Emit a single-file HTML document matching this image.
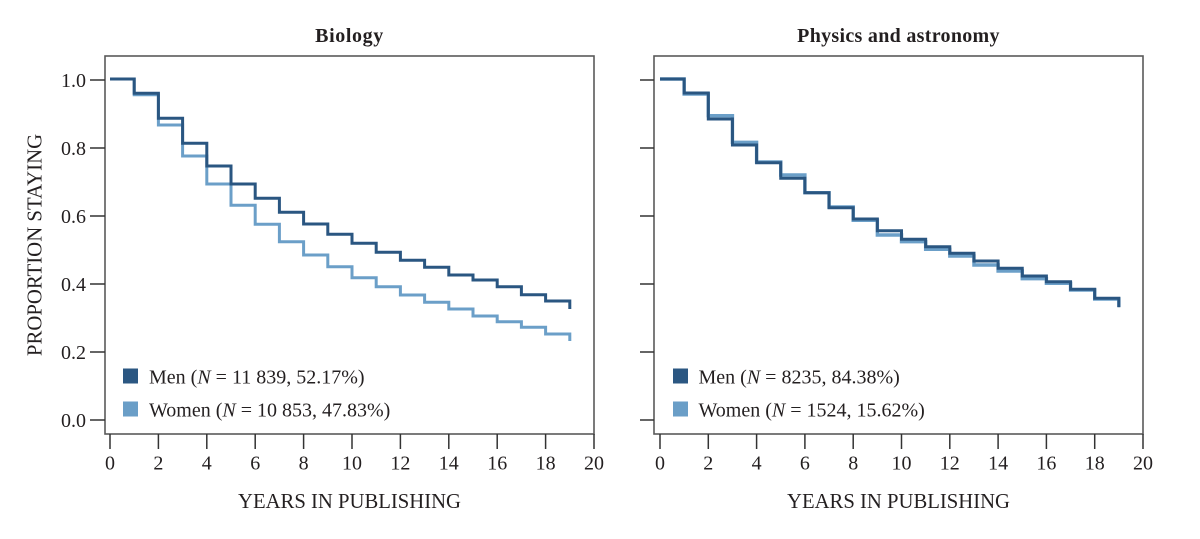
<!DOCTYPE html>
<html>
<head>
<meta charset="utf-8">
<style>
  html,body{margin:0;padding:0;background:#fff;}
  svg{display:block;}
  text{font-family:"Liberation Serif","DejaVu Serif",serif;fill:#231f20;}
</style>
</head>
<body>
<svg width="1200" height="539" viewBox="0 0 1200 539" xmlns="http://www.w3.org/2000/svg">
  <!-- Titles -->
  <text x="349.5" y="42" font-size="20" font-weight="bold" text-anchor="middle" letter-spacing="0.6">Biology</text>
  <text x="898.5" y="42" font-size="20" font-weight="bold" text-anchor="middle" letter-spacing="0.3">Physics and astronomy</text>

  <!-- Y axis label -->
  <text transform="translate(41.5,245) rotate(-90)" font-size="20.8" text-anchor="middle">PROPORTION STAYING</text>

  <!-- X axis labels -->
  <text x="349.5" y="508" font-size="20.7" text-anchor="middle">YEARS IN PUBLISHING</text>
  <text x="898.5" y="508" font-size="20.7" text-anchor="middle">YEARS IN PUBLISHING</text>

  <!-- ===== Left panel ===== -->
  <rect x="105" y="56" width="489" height="378" fill="none" stroke="#5a5a5a" stroke-width="1.6"/>
  <!-- y ticks -->
  <g stroke="#333" stroke-width="1.5">
    <line x1="90" y1="80" x2="105" y2="80"/>
    <line x1="90" y1="148" x2="105" y2="148"/>
    <line x1="90" y1="216" x2="105" y2="216"/>
    <line x1="90" y1="284" x2="105" y2="284"/>
    <line x1="90" y1="352" x2="105" y2="352"/>
    <line x1="90" y1="420" x2="105" y2="420"/>
  </g>
  <g font-size="20" text-anchor="end">
    <text x="86" y="87">1.0</text>
    <text x="86" y="155">0.8</text>
    <text x="86" y="223">0.6</text>
    <text x="86" y="291">0.4</text>
    <text x="86" y="359">0.2</text>
    <text x="86" y="427">0.0</text>
  </g>
  <!-- x ticks -->
  <g stroke="#333" stroke-width="1.5">
    <line x1="110" y1="434" x2="110" y2="449"/>
    <line x1="158.4" y1="434" x2="158.4" y2="449"/>
    <line x1="206.8" y1="434" x2="206.8" y2="449"/>
    <line x1="255.2" y1="434" x2="255.2" y2="449"/>
    <line x1="303.6" y1="434" x2="303.6" y2="449"/>
    <line x1="352" y1="434" x2="352" y2="449"/>
    <line x1="400.4" y1="434" x2="400.4" y2="449"/>
    <line x1="448.8" y1="434" x2="448.8" y2="449"/>
    <line x1="497.2" y1="434" x2="497.2" y2="449"/>
    <line x1="545.6" y1="434" x2="545.6" y2="449"/>
    <line x1="594" y1="434" x2="594" y2="449"/>
  </g>
  <g font-size="20" text-anchor="middle">
    <text x="110" y="469.5">0</text>
    <text x="158.4" y="469.5">2</text>
    <text x="206.8" y="469.5">4</text>
    <text x="255.2" y="469.5">6</text>
    <text x="303.6" y="469.5">8</text>
    <text x="352" y="469.5">10</text>
    <text x="400.4" y="469.5">12</text>
    <text x="448.8" y="469.5">14</text>
    <text x="497.2" y="469.5">16</text>
    <text x="545.6" y="469.5">18</text>
    <text x="594" y="469.5">20</text>
  </g>
  <!-- Women (left) -->
  <path fill="none" stroke="#6b9fc8" stroke-width="3" stroke-linejoin="miter"
    d="M110,79 H134.2 V94.7 H158.4 V125 H182.6 V156 H206.8 V184 H231 V205.3 H255.2 V224.3 H279.4 V241.7 H303.6 V255 H327.8 V266.7 H352 V277.7 H376.2 V286.7 H400.4 V295 H424.6 V302.3 H448.8 V309 H473 V316 H497.2 V321.7 H521.4 V327.3 H545.6 V334 H569.8 V341"/>
  <!-- Men (left) -->
  <path fill="none" stroke="#2a5681" stroke-width="3" stroke-linejoin="miter"
    d="M110,79 H134.2 V93.3 H158.4 V118.3 H182.6 V143.3 H206.8 V166 H231 V184 H255.2 V198.3 H279.4 V212.3 H303.6 V224 H327.8 V234.3 H352 V243.3 H376.2 V252.3 H400.4 V260.3 H424.6 V267.3 H448.8 V275 H473 V280 H497.2 V286.7 H521.4 V294.7 H545.6 V301 H569.8 V309"/>
  <!-- Legend left -->
  <rect x="123" y="368.5" width="15" height="15" fill="#2b5782"/>
  <rect x="123" y="401.5" width="15" height="15" fill="#6a9ec7"/>
  <text x="149" y="383.5" font-size="20">Men (<tspan font-style="italic">N</tspan> = 11 839, 52.17%)</text>
  <text x="149" y="416.5" font-size="20">Women (<tspan font-style="italic">N</tspan> = 10 853, 47.83%)</text>

  <!-- ===== Right panel ===== -->
  <rect x="654" y="56" width="489" height="378" fill="none" stroke="#5a5a5a" stroke-width="1.6"/>
  <g stroke="#333" stroke-width="1.5">
    <line x1="640" y1="80" x2="654" y2="80"/>
    <line x1="640" y1="148" x2="654" y2="148"/>
    <line x1="640" y1="216" x2="654" y2="216"/>
    <line x1="640" y1="284" x2="654" y2="284"/>
    <line x1="640" y1="352" x2="654" y2="352"/>
    <line x1="640" y1="420" x2="654" y2="420"/>
  </g>
  <g stroke="#333" stroke-width="1.5">
    <line x1="660" y1="434" x2="660" y2="449"/>
    <line x1="708.3" y1="434" x2="708.3" y2="449"/>
    <line x1="756.6" y1="434" x2="756.6" y2="449"/>
    <line x1="804.9" y1="434" x2="804.9" y2="449"/>
    <line x1="853.2" y1="434" x2="853.2" y2="449"/>
    <line x1="901.5" y1="434" x2="901.5" y2="449"/>
    <line x1="949.8" y1="434" x2="949.8" y2="449"/>
    <line x1="998.1" y1="434" x2="998.1" y2="449"/>
    <line x1="1046.4" y1="434" x2="1046.4" y2="449"/>
    <line x1="1094.7" y1="434" x2="1094.7" y2="449"/>
    <line x1="1143" y1="434" x2="1143" y2="449"/>
  </g>
  <g font-size="20" text-anchor="middle">
    <text x="660" y="469.5">0</text>
    <text x="708.3" y="469.5">2</text>
    <text x="756.6" y="469.5">4</text>
    <text x="804.9" y="469.5">6</text>
    <text x="853.2" y="469.5">8</text>
    <text x="901.5" y="469.5">10</text>
    <text x="949.8" y="469.5">12</text>
    <text x="998.1" y="469.5">14</text>
    <text x="1046.4" y="469.5">16</text>
    <text x="1094.7" y="469.5">18</text>
    <text x="1143" y="469.5">20</text>
  </g>
  <!-- Women (right) -->
  <path fill="none" stroke="#6b9fc8" stroke-width="3.4" stroke-linejoin="miter"
    d="M660,79 H684.15 V94 H708.3 V115.7 H732.45 V142.3 H756.6 V162 H780.75 V175 H804.9 V192.7 H829.05 V207 H853.2 V220.3 H877.35 V235 H901.5 V241.7 H925.65 V249.3 H949.8 V256 H973.95 V265 H998.1 V271 H1022.25 V278.7 H1046.4 V283.3 H1070.55 V290 H1094.7 V299 H1118.85 V307"/>
  <!-- Men (right) -->
  <path fill="none" stroke="#2a5681" stroke-width="3" stroke-linejoin="miter"
    d="M660,79 H684.15 V93 H708.3 V119 H732.45 V145 H756.6 V162.7 H780.75 V178.3 H804.9 V192.7 H829.05 V207.7 H853.2 V219 H877.35 V230.7 H901.5 V239.3 H925.65 V246.7 H949.8 V253.3 H973.95 V261 H998.1 V268.3 H1022.25 V276 H1046.4 V281.7 H1070.55 V289.3 H1094.7 V298.3 H1118.85 V307.3"/>
  <!-- Legend right -->
  <rect x="673" y="368.5" width="15" height="15" fill="#2b5782"/>
  <rect x="673" y="401.5" width="15" height="15" fill="#6a9ec7"/>
  <text x="698.5" y="383.5" font-size="20">Men (<tspan font-style="italic">N</tspan> = 8235, 84.38%)</text>
  <text x="698.5" y="416.5" font-size="20">Women (<tspan font-style="italic">N</tspan> = 1524, 15.62%)</text>
</svg>
</body>
</html>
